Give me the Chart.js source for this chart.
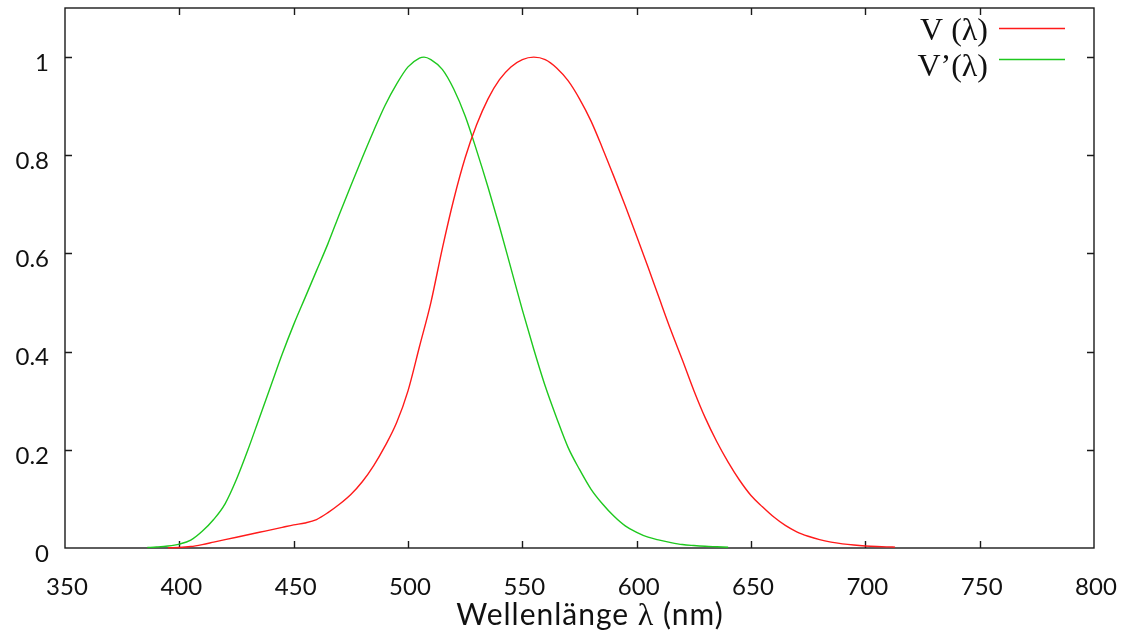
<!DOCTYPE html>
<html>
<head>
<meta charset="utf-8">
<title>V(λ) und V'(λ)</title>
<script src="https://cdn.jsdelivr.net/npm/chart.js@4.4.1/dist/chart.umd.min.js"></script>
<style>
  html, body { margin: 0; padding: 0; background: #ffffff; }
  #wrap { width: 1123px; height: 633px; position: relative; }
</style>
</head>
<body>
<div id="wrap"><canvas id="c" width="1123" height="633"></canvas></div>
<script>
// Photopic luminosity function V(λ): wavelength (nm) and relative sensitivity
const WL_PHOTOPIC = [395, 400, 405, 410, 415, 420, 425, 430, 435, 440, 445, 450, 455, 460, 465, 470, 475, 480, 485, 490,
  495, 500, 505, 510, 515, 520, 525, 530, 535, 540, 545, 550, 555, 560, 565, 570, 575, 580, 585, 590,
  595, 600, 605, 610, 615, 620, 625, 630, 635, 640, 645, 650, 655, 660, 665, 670, 675, 680, 685, 690,
  695, 700, 705, 710, 713];
const V_PHOTOPIC = [0.0005, 0.001, 0.003, 0.007, 0.012, 0.017, 0.022, 0.027, 0.032, 0.037, 0.042, 0.047, 0.051, 0.058, 0.072, 0.089, 0.109, 0.135, 0.168, 0.208,
  0.255, 0.32, 0.41, 0.5, 0.61, 0.71, 0.795, 0.862, 0.915, 0.954, 0.98, 0.995, 1.0, 0.995, 0.978, 0.952, 0.915, 0.87, 0.815, 0.757,
  0.697, 0.635, 0.572, 0.507, 0.443, 0.383, 0.321, 0.265, 0.217, 0.175, 0.138, 0.107, 0.084, 0.063, 0.046, 0.033, 0.024, 0.017, 0.012, 0.0085,
  0.006, 0.0042, 0.003, 0.0022, 0.0018];

// Scotopic luminosity function V'(λ)
const WL_SCOTOPIC = [386, 390, 395, 400, 405, 410, 415, 420, 425, 430, 435, 440, 445, 450, 455, 460, 465, 470, 475, 480,
  485, 490, 495, 500, 505, 507, 510, 515, 520, 525, 530, 535, 540, 545, 550, 555, 560, 565, 570, 575,
  580, 585, 590, 595, 600, 605, 610, 615, 620, 625, 630, 635, 640];
const V_SCOTOPIC = [0.001, 0.002, 0.004, 0.008, 0.016, 0.034, 0.058, 0.09, 0.14, 0.2, 0.265, 0.33, 0.395, 0.455, 0.51, 0.565, 0.62, 0.68, 0.738, 0.795,
  0.85, 0.902, 0.945, 0.98, 0.998, 1.0, 0.995, 0.975, 0.935, 0.88, 0.81, 0.735, 0.655, 0.57, 0.485, 0.405, 0.33, 0.265, 0.205, 0.16,
  0.12, 0.09, 0.065, 0.045, 0.032, 0.022, 0.016, 0.011, 0.007, 0.005, 0.0035, 0.0025, 0.0015];

// Axis ticks and labels
const X_TICKS = [350, 400, 450, 500, 550, 600, 650, 700, 750, 800];
const Y_TICKS = [0, 0.2, 0.4, 0.6, 0.8, 1];
const Y_TICK_LABELS = ['0', '0.2', '0.4', '0.6', '0.8', '1'];
const SERIES_LABELS = ['V (λ)', 'V’(λ)'];
const SERIES_COLORS = ['#ff1a1a', '#1ec81e'];

const toPoints = (xs, ys) => xs.map((x, i) => ({ x: x, y: ys[i] }));

// Box frame with inward ticks on all four sides
const framePlugin = {
  id: 'frame',
  beforeDatasetsDraw(chart) {
    const { ctx, chartArea: a, scales } = chart;
    const len = 7;
    ctx.save();
    ctx.strokeStyle = '#1a1a1a';
    ctx.lineWidth = 1.4;
    ctx.strokeRect(a.left, a.top, a.right - a.left, a.bottom - a.top);
    ctx.beginPath();
    X_TICKS.forEach(v => {
      const px = Math.round(scales.x.getPixelForValue(v)) + 0.5;
      if (px <= a.left + 1 || px >= a.right - 1) return;
      ctx.moveTo(px, a.bottom); ctx.lineTo(px, a.bottom - len);
      ctx.moveTo(px, a.top); ctx.lineTo(px, a.top + len);
    });
    Y_TICKS.forEach(v => {
      const py = Math.round(scales.y.getPixelForValue(v)) + 0.5;
      if (py >= a.bottom - 1 || py <= a.top + 1) return;
      ctx.moveTo(a.left, py); ctx.lineTo(a.left + len, py);
      ctx.moveTo(a.right, py); ctx.lineTo(a.right - len, py);
    });
    ctx.stroke();
    ctx.restore();
  }
};

// Axis title and key in the upper right corner
const textPlugin = {
  id: 'texts',
  afterDraw(chart) {
    const { ctx } = chart;
    ctx.save();
    ctx.fillStyle = '#111';
    ctx.textBaseline = 'alphabetic';
    ctx.textAlign = 'left';
    // x-axis title
    ctx.letterSpacing = '1px';
    const parts = [
      { t: 'Wellenlänge ', f: '30px Lato' },
      { t: 'λ', f: '32px "Liberation Serif"' },
      { t: ' (nm)', f: '30px Lato' }
    ];
    let total = 0;
    parts.forEach(p => { ctx.font = p.f; p.w = ctx.measureText(p.t).width; total += p.w; });
    let x = 590 - total / 2;
    parts.forEach(p => { ctx.font = p.f; ctx.fillText(p.t, x, 625); x += p.w; });
    ctx.letterSpacing = '0px';

    // key
    ctx.font = '32px "Liberation Serif"';
    ctx.textAlign = 'right';
    const rows = [{ base: 40, line: 28.5 }, { base: 76, line: 59.5 }];
    rows.forEach((r, i) => {
      ctx.fillStyle = '#111';
      ctx.fillText(SERIES_LABELS[i], 988, r.base);
      ctx.strokeStyle = SERIES_COLORS[i];
      ctx.lineWidth = 1.6;
      ctx.beginPath();
      ctx.moveTo(999, r.line);
      ctx.lineTo(1065, r.line);
      ctx.stroke();
    });
    ctx.restore();
  }
};

// Fixed axis sizes; no extra room for overhanging tick labels
function fixX(scale) {
  scale.height = 85;
  scale.paddingLeft = 0; scale.paddingRight = 0;
  scale.paddingTop = 0; scale.paddingBottom = 0;
}
function fixY(scale) {
  scale.width = 65;
  scale.paddingLeft = 0; scale.paddingRight = 0;
  scale.paddingTop = 0; scale.paddingBottom = 0;
}

new Chart(document.getElementById('c'), {
  type: 'scatter',
  data: {
    datasets: [
      {
        label: SERIES_LABELS[0],
        data: toPoints(WL_PHOTOPIC, V_PHOTOPIC),
        showLine: true,
        borderColor: SERIES_COLORS[0],
        borderWidth: 1.4,
        pointRadius: 0,
        cubicInterpolationMode: 'monotone',
        clip: 4
      },
      {
        label: SERIES_LABELS[1],
        data: toPoints(WL_SCOTOPIC, V_SCOTOPIC),
        showLine: true,
        borderColor: SERIES_COLORS[1],
        borderWidth: 1.4,
        pointRadius: 0,
        cubicInterpolationMode: 'monotone',
        clip: 4
      }
    ]
  },
  options: {
    responsive: false,
    animation: false,
    devicePixelRatio: 1,
    layout: { padding: { top: 8, right: 29, left: 0, bottom: 0 } },
    plugins: {
      legend: { display: false },
      tooltip: { enabled: false }
    },
    scales: {
      x: {
        type: 'linear',
        min: 350,
        max: 800,
        afterBuildTicks(scale) { scale.ticks = X_TICKS.map(v => ({ value: v })); },
        afterFit: fixX,
        grid: { display: false, drawTicks: false },
        border: { display: false },
        ticks: {
          font: { family: 'Lato', size: 24 },
          color: '#111',
          padding: 25,
          labelOffset: 2,
          maxRotation: 0,
          callback: v => String(v)
        }
      },
      y: {
        type: 'linear',
        min: 0,
        max: 1.1,
        afterBuildTicks(scale) { scale.ticks = Y_TICKS.map(v => ({ value: v })); },
        afterFit: fixY,
        grid: { display: false, drawTicks: false },
        border: { display: false },
        ticks: {
          font: { family: 'Lato', size: 24 },
          color: '#111',
          padding: 16,
          labelOffset: 6,
          callback: v => Y_TICK_LABELS[Y_TICKS.indexOf(v)] ?? ''
        }
      }
    }
  },
  plugins: [framePlugin, textPlugin]
});
</script>
</body>
</html>
